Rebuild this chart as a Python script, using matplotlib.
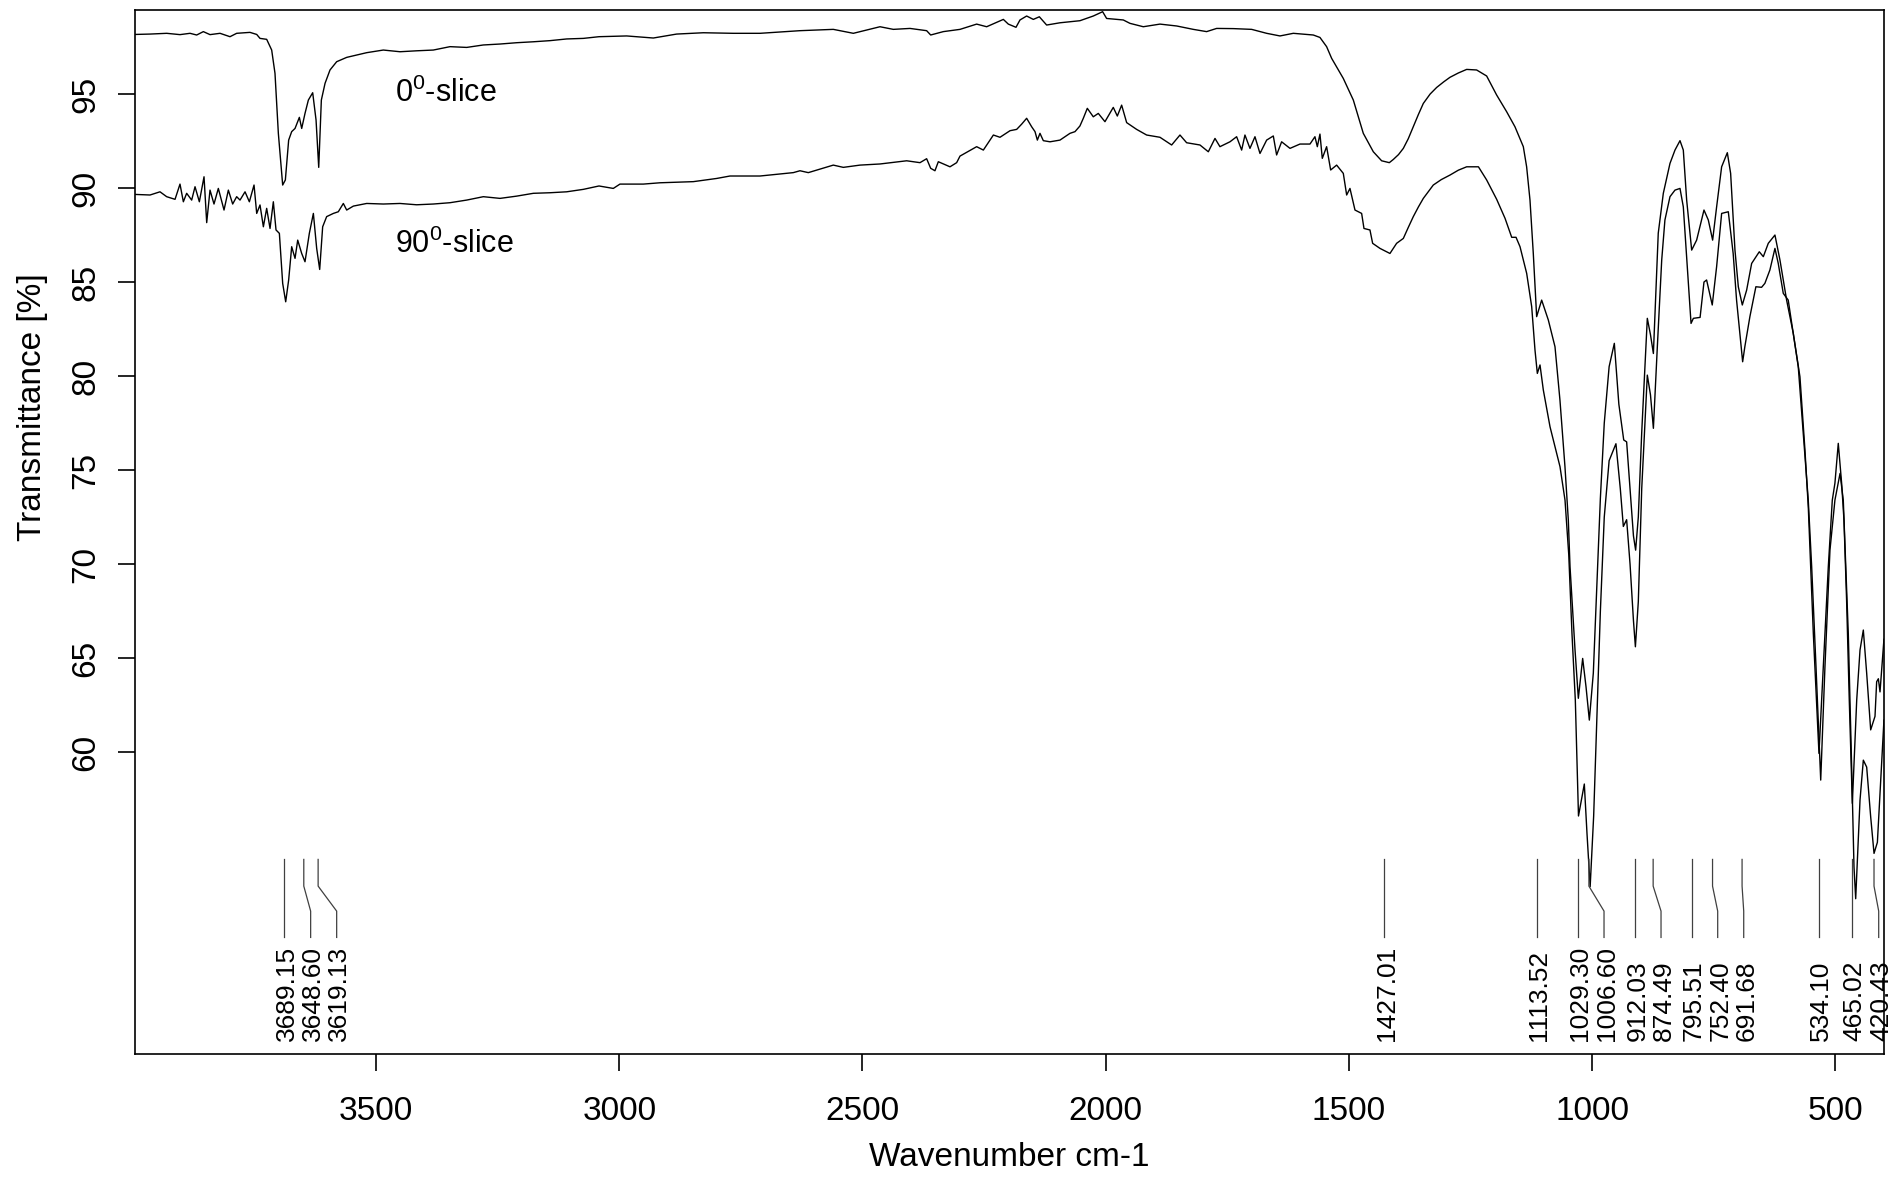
import matplotlib.pyplot as plt

plt.rcParams['font.family'] = ['Liberation Sans', 'DejaVu Sans']
plt.rcParams['mathtext.fontset'] = 'custom'
plt.rcParams['mathtext.rm'] = 'Liberation Sans'

# 0 degree slice (upper trace)
wn_0 = [3994.9, 3964.7, 3930.5, 3903.1, 3882.5, 3868.8, 3855.1, 3841.4, 3820.8, 3800.3,
        3786.6, 3759.2, 3745.4, 3738.6, 3724.9, 3714.6, 3707.8, 3700.9, 3692.0, 3686.5,
        3679.7, 3673.5, 3666.6, 3657.7, 3652.9, 3646.1, 3639.2, 3630.3, 3623.4, 3617.9,
        3612.5, 3604.9, 3594.7, 3581.0, 3560.4, 3519.3, 3485.1, 3450.8, 3416.6, 3382.3,
        3348.0, 3313.7, 3279.5, 3245.2, 3211.0, 3176.7, 3142.4, 3108.2, 3073.9, 3041.7,
        2984.9, 2930.0, 2882.1, 2827.2, 2765.6, 2710.7, 2628.5, 2560.0, 2518.8, 2464.0,
        2436.6, 2402.3, 2368.1, 2359.8, 2333.8, 2299.5, 2265.3, 2244.7, 2210.4, 2200.2,
        2184.4, 2176.2, 2162.5, 2148.8, 2136.4, 2121.4, 2094.0, 2053.0,
        2025.5, 2006.3, 1998.1, 1963.8, 1950.1, 1922.7, 1888.4, 1854.1, 1819.9, 1792.5,
        1771.9, 1737.6, 1699.9, 1669.1, 1641.7, 1614.3, 1573.2, 1559.5, 1545.8, 1535.5,
        1511.5, 1490.9, 1470.4, 1449.8, 1432.7, 1416.9, 1408.7, 1398.0, 1388.1, 1378.0,
        1367.6, 1357.0, 1347.0, 1333.0, 1319.6, 1305.0, 1292.2, 1275.0, 1257.9,
        1237.4, 1216.8, 1196.3, 1175.7, 1158.6, 1141.4, 1134.6, 1127.7, 1120.9, 1114.0,
        1103.7, 1090.0, 1076.3, 1066.1, 1055.8, 1048.9, 1045.4, 1035.1, 1028.3, 1019.4,
        1012.5, 1005.7, 997.5, 990.0, 983.0, 975.0, 965.0, 954.3, 945.0, 935.0,
        929.0, 922.0, 915.0, 910.5, 905.0, 898.0, 886.5, 880.0, 874.0, 864.0,
        853.6, 839.9, 829.6, 819.3, 812.5, 805.6, 795.3, 785.1, 770.0, 761.1,
        752.2, 744.0, 733.7, 722.0, 715.2, 706.3, 699.4, 691.2, 682.3, 672.0,
        656.3, 648.0, 637.8, 624.1, 613.8, 600.1, 586.4, 572.7, 562.4, 555.5,
        545.2, 533.6, 524.7, 514.4, 506.2, 500.8, 493.9, 487.0, 482.2, 476.8,
        471.3, 465.0, 456.0, 449.2, 442.4, 435.5, 427.3, 421.8, 418.4, 415.0,
        411.5, 408.1, 400.0]
t_0 = [98.17, 98.19, 98.23, 98.16, 98.23, 98.14, 98.32, 98.16, 98.23, 98.05,
       98.23, 98.28, 98.17, 97.96, 97.91, 97.34, 96.10, 92.91, 90.16, 90.43,
       92.55, 93.00, 93.17, 93.76, 93.17, 93.97, 94.68, 95.07, 93.62, 91.10,
       94.68, 95.57, 96.28, 96.72, 96.95, 97.20, 97.34, 97.25, 97.30, 97.34,
       97.52, 97.48, 97.61, 97.66, 97.73, 97.78, 97.84, 97.93, 97.96, 98.05,
       98.09, 97.98, 98.19, 98.26, 98.23, 98.23, 98.37, 98.44, 98.23, 98.58,
       98.44, 98.49, 98.37, 98.14, 98.32, 98.44, 98.72, 98.58, 98.97, 98.72,
       98.55, 98.94, 99.15, 98.97, 99.11, 98.67, 98.79, 98.90,
       99.15, 99.38, 99.02, 98.94, 98.76, 98.58, 98.72, 98.62, 98.44, 98.32,
       98.49, 98.48, 98.44, 98.23, 98.09, 98.23, 98.14, 98.01, 97.52, 96.90,
       95.83, 94.68, 92.91, 91.93, 91.45, 91.35, 91.52, 91.78, 92.11, 92.62,
       93.26, 93.92, 94.50, 95.00, 95.35, 95.65, 95.89, 96.12, 96.31,
       96.28, 95.96, 94.95, 94.06, 93.26, 92.20, 91.13, 89.36, 86.52, 83.16,
       84.04, 82.98, 81.56, 78.72, 75.18, 72.34, 69.86, 65.43, 62.86, 64.98,
       63.47, 61.70, 64.20, 69.00, 73.50, 77.50, 80.50, 81.74, 78.50, 76.60,
       76.50, 74.00, 71.50, 70.74, 72.50, 77.00, 83.07, 82.20, 81.20, 87.60,
       89.72, 91.31, 92.02, 92.52, 92.02, 89.36, 86.70, 87.23, 88.83, 88.30,
       87.23, 89.00, 91.13, 91.88, 90.78, 86.70, 84.75, 83.78, 84.57, 85.99,
       86.61, 86.35, 87.06, 87.50, 86.17, 84.04, 82.27, 79.96, 76.06, 73.00,
       66.31, 59.93, 64.54, 69.86, 73.40, 74.30, 76.42, 74.30, 72.34, 68.09,
       62.77, 57.27, 62.77, 65.43, 66.49, 64.19, 61.18, 61.63, 61.90, 63.74,
       63.90, 63.20, 66.00]

# 90 degree slice (lower trace)
wn_90 = [3994.9, 3964.7, 3944.2, 3930.5, 3913.3, 3903.1, 3896.2, 3889.4, 3879.1, 3872.2,
         3863.3, 3853.7, 3848.2, 3841.4, 3833.2, 3824.3, 3812.6, 3803.7, 3794.8, 3786.6,
         3779.7, 3769.4, 3760.5, 3750.9, 3745.4, 3738.6, 3731.7, 3724.9, 3718.0, 3711.2,
         3705.7, 3698.8, 3692.0, 3685.8, 3679.7, 3673.5, 3666.6, 3661.1, 3652.9, 3646.1,
         3637.2, 3628.9, 3622.1, 3615.9, 3609.8, 3601.6, 3587.8, 3577.6, 3567.3, 3560.4,
         3546.7, 3519.3, 3485.1, 3450.8, 3416.6, 3382.3, 3348.0, 3313.7, 3279.5, 3245.2,
         3211.0, 3176.7, 3142.4, 3108.2, 3073.9, 3041.7,
         3012.3, 2998.6, 2950.6, 2916.3, 2847.8, 2799.8, 2772.4, 2710.7, 2642.2, 2628.5,
         2611.4, 2560.0, 2539.4, 2505.1, 2464.0, 2409.2, 2381.8, 2368.1, 2359.8, 2351.0,
         2344.1, 2320.1, 2306.4, 2299.5, 2265.3, 2251.5, 2230.9, 2217.3, 2196.7, 2183.0,
         2172.7, 2162.5, 2152.2, 2145.3, 2140.5, 2135.1, 2128.2, 2114.5, 2094.0, 2073.4,
         2063.1, 2053.0,
         2046.0, 2037.8, 2025.5, 2015.2, 2001.5, 1984.4, 1976.1, 1967.2, 1956.9, 1936.4,
         1915.8, 1888.4, 1864.4, 1847.3, 1833.6, 1806.2, 1789.0, 1775.3, 1765.1, 1744.5,
         1730.8, 1720.5, 1713.7, 1703.4, 1693.1, 1682.8, 1669.1, 1655.4, 1648.6, 1638.3,
         1621.1, 1600.6, 1580.0, 1569.8, 1564.9, 1559.5, 1554.7, 1545.8, 1537.5, 1525.2,
         1511.5, 1504.6, 1497.8, 1487.5, 1473.8, 1469.0, 1456.7, 1451.2, 1436.1, 1415.6,
         1401.9, 1388.1, 1378.0, 1367.6, 1357.0, 1347.0, 1326.5, 1310.0, 1292.2, 1275.0,
         1257.9,
         1233.7, 1216.8, 1196.2, 1179.0, 1165.3, 1156.4, 1148.2, 1134.5, 1124.2, 1117.4,
         1112.6, 1107.1, 1100.3, 1086.5, 1072.9, 1066.0, 1055.7, 1048.0, 1041.4, 1034.5,
         1028.0, 1016.0, 1010.5, 1004.0, 996.8, 990.0, 983.0, 975.0, 965.0, 951.0,
         942.0, 935.8, 929.0, 922.0, 915.0, 911.0, 905.0, 898.0, 886.5, 880.0,
         874.0, 866.0, 856.9, 850.3, 839.9, 829.6, 819.3, 812.5, 804.3, 796.6,
         791.8, 778.0, 770.0, 764.6, 753.0, 744.0, 733.7, 720.0, 710.0, 703.0,
         690.5, 686.0, 675.6, 663.3, 651.6, 644.8, 634.5, 624.1, 617.3, 607.0,
         596.8, 586.4, 576.2, 565.9, 555.6, 548.6, 539.7, 530.0, 521.3, 511.0,
         500.8, 490.3, 483.6, 473.3, 466.4, 461.6, 458.1, 449.2, 442.4, 435.5,
         427.3, 420.4, 413.5, 408.1, 400.0]
t_90 = [89.66, 89.63, 89.80, 89.54, 89.40, 90.21, 89.27, 89.72, 89.36, 90.07,
        89.27, 90.60, 88.16, 89.89, 89.15, 89.98, 88.83, 89.89, 89.15, 89.54,
        89.36, 89.80, 89.27, 90.16, 88.65, 89.10, 87.94, 88.92, 87.85, 89.27,
        87.77, 87.59, 84.93, 83.95, 85.11, 86.88, 86.26, 87.23, 86.52, 86.08,
        87.59, 88.65, 86.79, 85.67, 87.94, 88.48, 88.65, 88.74, 89.18, 88.83,
        89.04, 89.18, 89.15, 89.18, 89.11, 89.15, 89.22, 89.36, 89.54, 89.45,
        89.57, 89.72, 89.75, 89.80, 89.93, 90.11,
        89.98, 90.21, 90.21, 90.28, 90.34, 90.51, 90.64, 90.64, 90.82, 90.92,
        90.82, 91.22, 91.10, 91.22, 91.28, 91.45, 91.35, 91.56, 91.05, 90.92,
        91.40, 91.13, 91.35, 91.70, 92.20, 92.02, 92.82, 92.70, 93.05, 93.12,
        93.40, 93.71, 93.26, 93.00, 92.55, 92.91, 92.52, 92.46, 92.55, 92.91,
        93.00, 93.30,
        93.71, 94.24, 93.79, 93.97, 93.53, 94.29, 93.83, 94.41, 93.48, 93.12,
        92.82, 92.70, 92.29, 92.82, 92.41, 92.29, 91.93, 92.64, 92.20, 92.46,
        92.73, 92.02, 92.82, 92.11, 92.73, 91.84, 92.55, 92.77, 91.76, 92.46,
        92.11, 92.34, 92.34, 92.73, 92.20, 92.87, 91.58, 92.20, 90.96, 91.22,
        90.78, 89.63, 89.98, 88.83, 88.65, 87.85, 87.77, 87.06, 86.79, 86.52,
        87.06, 87.32, 87.90, 88.48, 89.00, 89.45, 90.16, 90.45, 90.69, 90.95,
        91.13,
        91.13, 90.43, 89.40, 88.39, 87.38, 87.38, 86.88, 85.46, 83.69, 81.38,
        80.14, 80.59, 79.26, 77.30, 75.89, 75.18, 73.40, 70.50, 66.31, 62.76,
        56.60, 58.30, 55.67, 52.84, 56.60, 62.00, 67.50, 72.50, 75.50, 76.40,
        74.00, 72.00, 72.36, 70.00, 67.00, 65.60, 68.00, 74.00, 80.05, 79.00,
        77.22, 81.50, 86.17, 88.30, 89.54, 89.89, 89.98, 89.00, 85.82, 82.80,
        83.07, 83.12, 85.00, 85.11, 83.78, 85.82, 88.65, 88.74, 86.52, 84.04,
        80.76, 81.56, 83.16, 84.75, 84.72, 84.93, 85.64, 86.79, 85.99, 84.40,
        84.04, 82.27, 80.50, 76.95, 73.40, 69.86, 64.54, 58.51, 64.54, 70.74,
        73.40, 74.82, 73.40, 66.30, 59.20, 53.90, 52.20, 57.45, 59.57, 59.20,
        56.56, 54.61, 55.20, 57.80, 61.70]

# picked peaks and where their labels sit
peak_wn = [3689.15, 3648.60, 3619.13, 1427.01, 1113.52, 1029.30, 1006.60, 912.03,
           874.49, 795.51, 752.40, 691.68, 534.10, 465.02, 420.43]
label_wn = [3689.15, 3634.5, 3581.0, 1427.01, 1113.52, 1029.30, 975.5, 912.03,
            858.3, 795.51, 741.8, 688.3, 534.10, 465.02, 410.8]
peak_labels = ['3689.15', '3648.60', '3619.13', '1427.01', '1113.52', '1029.30', '1006.60',
               '912.03', '874.49', '795.51', '752.40', '691.68', '534.10', '465.02', '420.43']

x_ticks = [3500, 3000, 2500, 2000, 1500, 1000, 500]
y_ticks = [60, 65, 70, 75, 80, 85, 90, 95]

fig = plt.figure(figsize=(18.94, 11.78), dpi=100)
ax = fig.add_axes([0.07128, 0.10526, 0.92344, 0.88625])

ax.plot(wn_0, t_0, color='black', lw=1.0)
ax.plot(wn_90, t_90, color='black', lw=1.0)

for p, q, lab in zip(peak_wn, label_wn, peak_labels):
    ax.plot([p, p, q, q], [54.29, 52.87, 51.54, 50.14], color='#404040', lw=0.9)
    ax.text(q, 44.64, lab, rotation=90, rotation_mode='anchor', ha='left',
            va='center_baseline', fontsize=19, clip_on=False)

ax.text(3462, 94.59, '0$^\\mathregular{0}$-slice', fontsize=22, ha='left', va='baseline')
ax.text(3462, 86.54, '90$^\\mathregular{0}$-slice', fontsize=22, ha='left', va='baseline')

ax.set_xlim(3995.6, 399.9)
ax.set_ylim(43.94, 99.47)
ax.set_xticks(x_ticks)
ax.set_yticks(y_ticks)
ax.tick_params(direction='out', length=12, width=1.2, labelsize=24)
ax.tick_params(axis='x', pad=18)
ax.tick_params(axis='y', pad=12)
for lab in ax.get_yticklabels():
    lab.set_rotation(90)
    lab.set_va('center')
    lab.set_ha('right')
for s in ax.spines.values():
    s.set_linewidth(1.2)

fig.text(33 / 1894, 1 - 407 / 1178, 'Transmittance [%]', rotation=90,
         ha='center', va='center', fontsize=24)
fig.text(1009.5 / 1894, 1 - 1157 / 1178, 'Wavenumber cm-1',
         ha='center', va='center', fontsize=24)

fig.savefig('out.png', dpi=100)
